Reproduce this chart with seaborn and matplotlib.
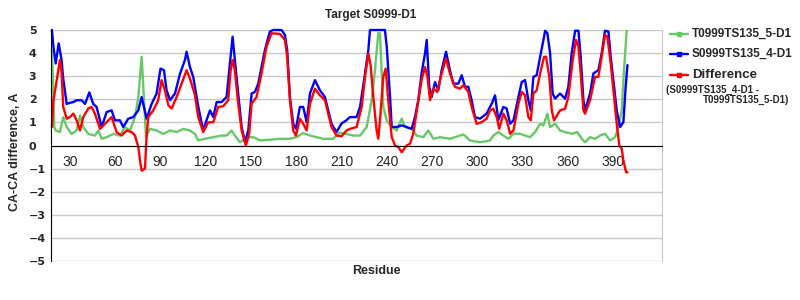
import matplotlib
matplotlib.use("Agg")
import matplotlib.pyplot as plt
from matplotlib.lines import Line2D
import pandas as pd
import seaborn as sns

# ---------------- data ----------------
res_green = [18, 18.7, 19.5, 20.5, 23.3, 25.5, 27.8, 31, 34.4, 36.6, 38.8, 42.1, 46.5, 48.8, 51, 54.3,
             58.7, 63.1, 66.4, 69.7, 73.1, 75.3, 77.5, 78.6, 80.4, 83, 87.4, 91.9, 96.3, 100.7, 105.1,
             109.5, 112.8, 115, 119.5, 125, 130.5, 133.8, 137.1, 139.3, 142.7, 147.1, 151.5, 155.9,
             162.5, 169.2, 175.8, 180.2, 184.6, 189.1, 193.5, 197.9, 204.5, 208.9, 213.4, 217.8, 222.3,
             226.7, 230, 232.2, 234.4, 235.5, 236.6, 237.7, 240, 243.3, 246.6, 249.9, 252.1, 256.5,
             259.8, 264.2, 267.6, 270.9, 275.3, 281.9, 285.2, 290.8, 295.2, 301.8, 308.5, 310.7, 314,
             317.3, 320.7, 324, 328.4, 331.7, 335, 338.3, 341.7, 343.9, 346.5, 348.3, 351.6, 354.9,
             358.2, 362.6, 366.4, 369.3, 371.5, 374.8, 378.1, 381.4, 384.7, 388.1, 391.4, 393.6, 395.8,
             397.3, 399.1]
green = [4.13, 2.83, 0.8, 0.65, 0.58, 1.23, 0.8, 0.5, 0.65, 1.3, 0.8, 0.5, 0.43, 0.65, 0.29, 0.36,
         0.5, 0.43, 0.8, 0.65, 1.23, 2.1, 3.84, 2.54, 0.36, 0.72, 0.65, 0.5, 0.65, 0.58, 0.72,
         0.65, 0.5, 0.22, 0.29, 0.36, 0.43, 0.43, 0.65, 0.43, 0.14, 0.36, 0.36, 0.22,
         0.25, 0.29, 0.29, 0.36, 0.54, 0.43, 0.36, 0.29, 0.29, 0.55, 0.5, 0.43, 0.43,
         0.8, 1.96, 3.26, 4.86, 4.86, 3.26, 1.67, 1.09, 0.8, 0.65, 1.16, 0.8, 0.72,
         0.43, 0.36, 0.65, 0.29, 0.36, 0.29, 0.36, 0.48, 0.22, 0.14, 0.22, 0.43, 0.58,
         0.43, 0.29, 0.51, 0.51, 0.43, 0.36, 0.58, 0.94, 0.87, 1.38, 0.8, 0.94, 0.65,
         0.58, 0.51, 0.58, 0.29, 0.14, 0.36, 0.29, 0.43, 0.51, 0.22, 0.36, 0.8, 1.52,
         3.26, 4.97]

res_blue = [18, 19, 20.5, 22.5, 24.4, 25.5, 27.8, 30, 32.2, 34.4, 37.7, 40, 42.8, 45.4, 47.6, 51,
            54.3, 57.6, 59.8, 63.1, 65.3, 68.6, 71.9, 75.3, 77.5, 80.8, 84.1, 87.4, 90, 92.3, 94,
            96.3, 99.6, 102.9, 106.2, 107.3, 109.5, 111.7, 112.8, 115, 118.3, 120.5, 122.8, 125,
            127.2, 130.5, 133.8, 136, 137.8, 139.3, 141.5, 143.8, 146, 148.2, 150.4, 152.6, 154.8,
            157, 159.2, 162.5, 164.7, 170.3, 172.5, 174, 175.8, 178, 179.8, 182.4, 184.6, 186.9,
            189.1, 192.4, 195.7, 199, 201.2, 203.4, 206.7, 210, 213.4, 215.6, 220, 222.3, 225.6,
            227.8, 228.9, 238.8, 240, 242.2, 243.3, 246.6, 249.9, 253.2, 256.5, 258.7, 260.9,
            263.1, 265.4, 266.5, 268.2, 269.8, 272, 274.2, 276.4, 279.3, 281.9, 284.1, 287.5,
            289.7, 291.9, 294.1, 296.3, 298.5, 301.8, 306.2, 309.6, 311.8, 314, 317.3, 319.5,
            321.8, 324, 327.3, 329.5, 331.7, 333.9, 335.5, 337.2, 339.4, 341.7, 343.9, 345,
            346.5, 348.3, 350, 351.6, 354.9, 358.2, 360.4, 362.6, 364.9, 367.1, 368.6, 370.4,
            371.5, 374.8, 377, 380.3, 382.5, 384.7, 387, 388.5, 390.7, 392.5, 394.7, 396.9,
            398.4, 399.6]
blue = [5.0, 4.28, 3.55, 4.42, 3.7, 2.9, 1.8, 1.85, 1.88, 1.96, 1.96, 1.8, 2.3, 1.8, 1.67, 0.8,
        1.45, 1.52, 1.09, 1.09, 0.8, 1.16, 1.23, 1.52, 2.1, 1.16, 1.8, 2.25, 3.33, 3.26, 2.4,
        1.96, 2.25, 3.1, 3.7, 4.06, 3.4, 2.97, 2.54, 1.7, 0.65, 1.09, 1.52, 1.23,
        1.88, 1.88, 2.1, 3.55, 4.71, 3.7, 2.25, 0.8, 0.14, 0.65, 2.25, 2.32, 2.68,
        3.4, 4.13, 4.93, 5.0, 5.0, 4.78, 4.13, 2.1, 0.94, 0.72, 1.67, 1.67, 1.01,
        2.25, 2.83, 2.39, 2.1, 1.52, 0.94, 0.58, 0.95, 1.1, 1.23, 1.23, 1.67, 3.12,
        4.13, 5.0, 5.0, 4.28, 2.1, 0.8, 0.8, 0.87, 0.8, 0.72, 1.23, 1.96,
        3.12, 3.99, 4.57, 2.54, 2.1, 2.75, 2.39, 3.26, 4.06, 3.26, 2.68, 2.68,
        3.04, 2.54, 2.54, 1.96, 1.23, 1.16, 1.38, 1.81, 2.17, 1.1, 1.67, 1.6,
        0.94, 1.09, 2.1, 2.75, 2.83, 1.96, 1.52, 2.97, 3.04, 3.84, 4.57, 4.97,
        4.86, 3.99, 2.25, 2.03, 2.25, 2.03, 2.54, 3.99, 4.97, 4.97, 3.84, 1.96,
        1.52, 2.25, 3.12, 3.26, 3.99, 4.97, 4.93, 3.84, 2.54, 1.52, 0.8, 1.01,
        2.54, 3.48]

res_red = [18, 19, 20.5, 22.2, 23.3, 24.4, 25.5, 27.8, 30, 32.2, 34.4, 36.6, 38.8, 42.1, 44.3, 46.5,
           49.9, 53.2, 57.6, 60.9, 64.2, 67.5, 70.9, 73.1, 75.3, 76.4, 77.5, 79.7, 80.8, 81.9, 85.2,
           88.5, 90.7, 92.9, 95.2, 97.4, 100.7, 104, 107.3, 109.5, 112.8, 115, 118.3, 121.6, 125,
           128.3, 131.6, 134.9, 136.5, 137.8, 139.3, 141.5, 143.8, 146.6, 148.8, 150.4, 153.7, 157,
           160.3, 163.6, 169.2, 172.5, 174, 175.8, 178, 179.8, 182.4, 184.6, 186.9, 189.1, 192.4,
           195.7, 199, 201.2, 203.4, 206.7, 210, 213.4, 215.6, 220, 223.4, 225.6, 227.8, 229.3,
           231.1, 233.3, 234.4, 235.5, 237.7, 239.3, 241, 243.3, 245.5, 247.7, 249.9, 253.2, 255.4,
           257.6, 260.3, 263.1, 265.4, 267, 268.7, 270.9, 273.5, 276.4, 279.3, 281.9, 285.2, 288.6,
           290.8, 294.1, 296.3, 299.6, 302.9, 306.2, 308.5, 310.7, 312.9, 314.6, 317.3, 319.5,
           321.8, 324, 327.3, 329.5, 331.7, 333.9, 335.5, 337.2, 339.4, 341.7, 344.3, 345.6, 347.8,
           349.4, 350.9, 354.9, 358.2, 360.4, 363.3, 365.5, 367.1, 368.6, 370.4, 371.5, 374.8,
           378.1, 380.3, 382.5, 384.7, 386.3, 388.5, 390.7, 392.5, 394.2, 395.8, 396.9, 398.7, 399.6]
red = [0.8, 1.96, 2.54, 3.26, 3.7, 3.2, 1.67, 1.16, 1.23, 1.38, 1.09, 0.65, 1.23, 1.6, 1.67, 1.38,
       0.72, 0.94, 1.23, 0.58, 0.43, 0.65, 0.58, 0.43, -0.07, -0.65, -1.09, -1.0, 0.43, 1.23, 1.52,
       1.96, 2.83, 2.4, 1.74, 1.6, 2.1, 2.68, 3.26, 2.9, 2.2, 1.23, 0.58, 1.0, 1.01,
       1.67, 1.7, 1.96, 3.26, 3.7, 3.26, 1.81, 0.65, 0.0, 0.51, 1.81, 2.1, 3.12,
       4.28, 4.86, 4.83, 4.57, 3.84, 1.96, 0.65, 0.43, 1.16, 0.94, 0.65, 1.81, 2.46,
       2.17, 1.96, 1.38, 0.8, 0.43, 0.4, 0.65, 0.72, 0.8, 1.67, 2.97, 3.99, 3.48,
       2.1, 0.65, 0.29, 1.09, 2.97, 3.33, 1.96, 0.36, 0.0, -0.07, -0.29, 0.0, 0.07,
       0.51, 1.67, 2.83, 3.4, 2.97, 1.96, 2.46, 2.32, 3.12, 3.77, 3.12, 2.54, 2.46,
       2.61, 2.32, 1.67, 0.94, 1.01, 1.16, 1.52, 1.59, 1.23, 0.72, 1.38, 1.09,
       0.51, 0.65, 1.81, 2.32, 2.17, 1.23, 1.09, 2.25, 2.39, 3.12, 3.84, 3.84, 2.97,
       1.52, 1.09, 1.52, 1.59, 2.1, 3.7, 4.57, 4.28, 3.12, 1.52, 1.38, 1.96,
       2.97, 2.97, 3.84, 4.78, 4.71, 3.55, 2.1, 0.94, 0.0, -0.14, -0.65, -1.16, -1.16]

title = "Target S0999-D1"
name_green = "T0999TS135_5-D1"
name_blue = "S0999TS135_4-D1"
name_red = "Difference"
red_note = ["(S0999TS135_4-D1 -", "T0999TS135_5-D1)"]
ylabel = "CA-CA difference, A"
xlabel = "Residue"
xtick_labels = [30, 60, 90, 120, 150, 180, 210, 240, 270, 300, 330, 360, 390]
ytick_labels = [-5, -4, -3, -2, -1, 0, 1, 2, 3, 4, 5]

c_green = "#66c866"
c_blue = "#0000ff"
c_red = "#ff0000"

# ---------------- plot ----------------
sns.set_style("white")
plt.rcParams["font.family"] = ["Liberation Sans", "DejaVu Sans"]

W, H = 800, 300
fig = plt.figure(figsize=(8, 3), dpi=100)
L, R, T, B = 51, 662, 30, 261
ax = fig.add_axes([L / W, 1 - B / H, (R - L) / W, (B - T) / H])

df_g = pd.DataFrame({"Residue": res_green, "val": green})
df_b = pd.DataFrame({"Residue": res_blue, "val": blue})
df_r = pd.DataFrame({"Residue": res_red, "val": red})

for df, col in [(df_g, c_green), (df_b, c_blue), (df_r, c_red)]:
    sns.lineplot(data=df, x="Residue", y="val", ax=ax, color=col, lw=1.7,
                 estimator=None, sort=False, clip_on=False, legend=False)

ax.set_xlim(17.4, 422.5)
ax.set_ylim(-5, 5)
ax.set_xlabel("")
ax.set_ylabel("")

# grid & spines
ax.set_yticks(ytick_labels)
ax.set_yticklabels([str(v).replace("-", "\u2212") for v in ytick_labels],
                   fontsize=8, fontweight="bold", family="DejaVu Sans")
for lab in ax.get_yticklabels():
    lab.set_horizontalalignment("left")
ax.tick_params(axis="y", length=0, pad=16)
ax.yaxis.grid(True, color="#c8c8c8", lw=1)
ax.xaxis.grid(False)
ax.set_axisbelow(True)

ax.set_xticks(xtick_labels)
ax.set_xticklabels([str(v) for v in xtick_labels], fontsize=8.5, fontweight="bold",
                   family="DejaVu Sans")
ax.set_xticks(list(range(20, 401, 10)), minor=True)
ax.tick_params(axis="x", which="both", length=6, width=1, color="#b0b0b0",
               direction="out", pad=1)

ax.spines["top"].set_visible(False)
ax.spines["right"].set_color("#c8c8c8")
ax.spines["left"].set_color("black")
ax.spines["bottom"].set_color("black")
ax.spines["bottom"].set_position(("data", 0))

# texts
fig.text(371 / W, 1 - 15 / H, title, ha="center", va="center", fontsize=8.5, fontweight="bold")
fig.text(15 / W, 1 - 152 / H, ylabel, rotation=90, ha="center", va="center",
         fontsize=9, fontweight="bold")
fig.text(376 / W, 1 - 271 / H, xlabel, ha="center", va="center", fontsize=9, fontweight="bold")

# legend (manual)
for yy, col, name, fs in [(34, c_green, name_green, 8.5), (54, c_blue, name_blue, 8.5),
                          (75, c_red, name_red, 9.5)]:
    fig.add_artist(Line2D([670 / W, 679 / W, 688 / W], [1 - yy / H] * 3, color=col, lw=1.7,
                          marker="s", markersize=2.5, markevery=[1],
                          transform=fig.transFigure))
    fig.text(692 / W, 1 - yy / H, name, ha="left", va="center", fontsize=fs, fontweight="bold")
fig.text(666 / W, 1 - 90 / H, red_note[0], ha="left", va="center", fontsize=7, fontweight="bold")
fig.text(703 / W, 1 - 100 / H, red_note[1], ha="left", va="center", fontsize=7, fontweight="bold")

fig.savefig("out.png", dpi=100)
